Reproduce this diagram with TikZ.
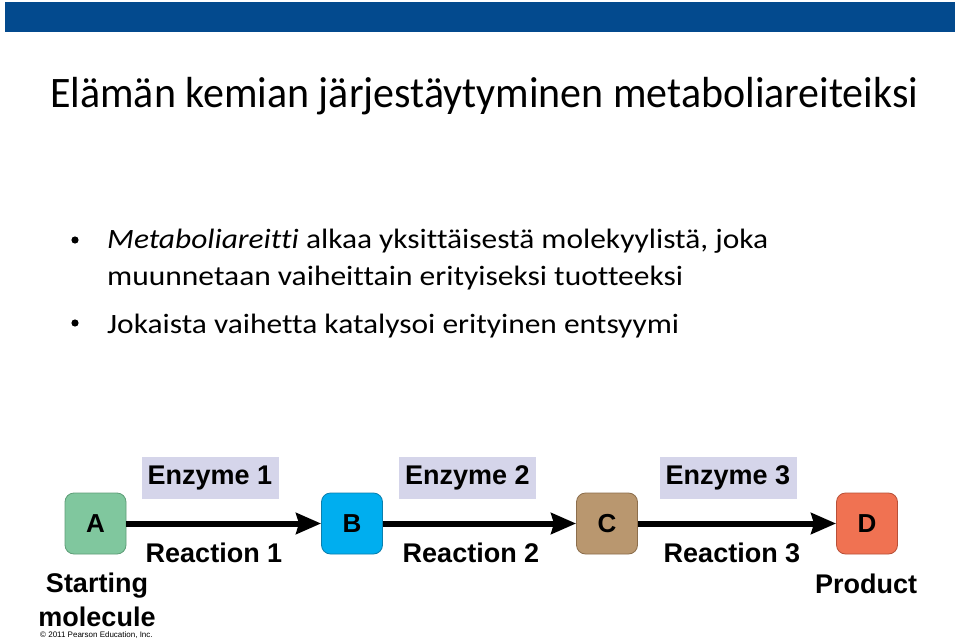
\documentclass[tikz,border=0pt]{standalone}
\usepackage{fontspec}
\usepackage{graphicx}
\setmainfont[Ligatures=NoCommon]{Carlito}
\newfontfamily\hv{Liberation Sans}
\usetikzlibrary{arrows.meta}
\newsavebox\myfitbox
\newcommand\fitw[2]{\sbox\myfitbox{#2}\scalebox{\fpeval{#1/\wd\myfitbox}}[1]{\usebox\myfitbox}}
\definecolor{barblue}{HTML}{034A8E}
\definecolor{enzbg}{HTML}{D5D5EA}
\definecolor{cA}{HTML}{80C79E}
\definecolor{cAd}{HTML}{5E9E78}
\definecolor{cB}{HTML}{00AEEF}
\definecolor{cBd}{HTML}{0A7FAE}
\definecolor{cC}{HTML}{B9976F}
\definecolor{cCd}{HTML}{8C6E4C}
\definecolor{cD}{HTML}{F07252}
\definecolor{cDd}{HTML}{B85038}
\tikzset{
  mol/.style={rounded corners=9pt, minimum width=61pt, minimum height=61pt, inner sep=0pt, line width=0.8pt,
    font=\hv\bfseries\fontsize{26}{26}\selectfont},
  enz/.style={fill=enzbg, minimum width=137pt, minimum height=42pt, inner sep=0pt,
    font=\hv\bfseries\fontsize{27}{27}\selectfont},
  lbl/.style={inner sep=0pt, anchor=base, font=\hv\bfseries\fontsize{27}{33}\selectfont},
  rxn/.style={line width=6pt, -{Stealth[length=25pt,width=21pt,inset=3pt]}},
  bul/.style={inner sep=0pt, anchor=base west, font=\fontsize{28}{37}\selectfont}
}
\begin{document}
\begin{tikzpicture}[x=1pt,y=-1pt]
\useasboundingbox (0,0) rectangle (959,642);
\fill[white] (0,0) rectangle (959,642);
% top bar
\fill[barblue] (5,2) rectangle (955,32);
% title
\node[inner sep=0pt, anchor=base west, font=\fontsize{43.5}{45}\selectfont] (title) at (50,107)
  {\fitw{868pt}{Elämän kemian järjestäytyminen metaboliareiteiksi}};
% bullets
\fill (75,240) circle (3.6pt);
\fill (75,323) circle (3.6pt);
\node[bul] (b1) at (107,248) {\fitw{661pt}{\textit{Metaboliareitti} alkaa yksittäisestä molekyylistä, joka}};
\node[bul] (b1b) at (107,285) {\fitw{576pt}{muunnetaan vaiheittain erityiseksi tuotteeksi}};
\node[bul] (b2) at (107,333) {\fitw{572pt}{Jokaista vaihetta katalysoi erityinen entsyymi}};
% molecules
\node[mol, fill=cA, draw=cAd] (A) at (95.5,523.5) {A};
\node[mol, fill=cB, draw=cBd] (B) at (352,523.5) {B};
\node[mol, fill=cC, draw=cCd] (C) at (607,523.5) {C};
\node[mol, fill=cD, draw=cDd] (D) at (867,523.5) {D};
% arrows
\draw[rxn] (A.east) -- (B.west);
\draw[rxn] (B.east) -- (C.west);
\draw[rxn] (C.east) -- (D.west);
% enzymes
\node[enz] (E1) at (210,478) {Enzyme 1};
\node[enz] (E2) at (467.5,478) {Enzyme 2};
\node[enz] (E3) at (728,478) {Enzyme 3};
% reactions
\node[lbl] (R1) at (214,562) {Reaction 1};
\node[lbl] (R2) at (471,562) {Reaction 2};
\node[lbl] (R3) at (732,562) {Reaction 3};
% captions
\node[lbl] (start1) at (97,592) {Starting};
\node[lbl] (start2) at (97,626) {molecule};
\node[lbl] (prod) at (866,593) {Product};
\node[inner sep=0pt, anchor=base west, font=\hv\fontsize{8}{8}\selectfont] (copy) at (40,637) {\textcopyright{} 2011 Pearson Education, Inc.};
\end{tikzpicture}
\end{document}
